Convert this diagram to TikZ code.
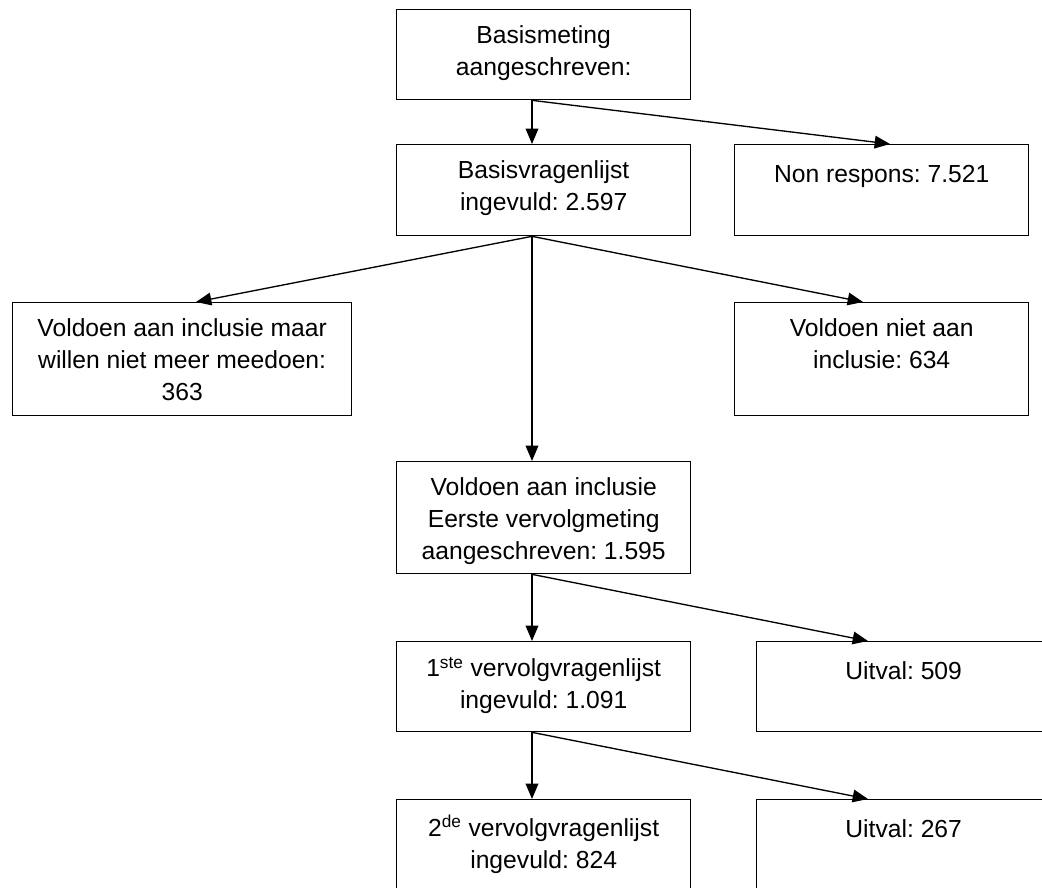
\documentclass[tikz,border=0pt]{standalone}
\usepackage{fontspec}
\setmainfont{Liberation Sans}
\usetikzlibrary{arrows.meta,calc}
\frenchspacing
\begin{document}
\begin{tikzpicture}[x=0.75pt,y=-0.75pt,
  box/.style={draw, line width=1pt, rectangle, inner sep=0pt, anchor=north west,
    minimum width=220.5pt, minimum height=67.5pt},
  txt/.style={inner sep=0pt, anchor=north, align=center,
    font=\fontsize{18.5}{24}\selectfont\frenchspacing, execute at begin node=\strut},
  arr/.style={-{Triangle[length=11.5pt,width=9.5pt]}, line width=1pt}]
\path[use as bounding box] (0,0) rectangle (1042,888);
\clip (0,0) rectangle (1042,888);

% boxes
\node[box] (b1) at (396,9) {};
\node[box, minimum height=68.25pt] (b2) at (396,144) {};
\node[box, minimum height=68.25pt] (nr) at (734,144) {};
\node[box, minimum width=254.25pt, minimum height=84.75pt] (b4) at (12,302) {};
\node[box, minimum height=84.75pt] (b5) at (734,302) {};
\node[box, minimum height=84pt] (b6) at (396,461) {};
\node[box] (b7) at (396,641) {};
\node[box] (u1) at (756,641) {};
\node[box] (b9) at (396,799) {};
\node[box] (u2) at (756,799) {};

% texts
\node[txt] (t1) at ($(b1.north)+(0,16)$) {Basismeting\\aangeschreven:};
\node[txt] (t2) at ($(b2.north)+(0,16)$) {Basisvragenlijst\\ingevuld: 2.597};
\node[txt] (tnr) at ($(nr.north)+(0,16)$) {Non respons: 7.521};
\node[txt] (t4) at ($(b4.north)+(0,16)$) {Voldoen aan inclusie maar\\willen niet meer meedoen:\\363};
\node[txt] (t5) at ($(b5.north)+(0,16)$) {Voldoen niet aan\\inclusie: 634};
\begin{scope}
  \clip (b6.north west) rectangle ($(b6.south east)+(0,-10)$);
  \node[txt] (t6) at ($(b6.north)+(0,16)$) {Voldoen aan inclusie\\Eerste vervolgmeting\\aangeschreven: 1.595};
\end{scope}
\node[txt] (t7) at ($(b7.north)+(0,16)$) {1\textsuperscript{ste} vervolgvragenlijst\\ingevuld: 1.091};
\node[txt] (tu1) at ($(u1.north)+(0,16)$) {Uitval: 509};
\node[txt] (t9) at ($(b9.north)+(0,16)$) {2\textsuperscript{de} vervolgvragenlijst\\ingevuld: 824};
\node[txt] (tu2) at ($(u2.north)+(0,16)$) {Uitval: 267};

% connector ends
\coordinate (b1o) at ($(b1.south west)+(136,0)$);
\coordinate (b2i) at ($(b2.north west)+(136,0)$);
\coordinate (nri) at ($(nr.north west)+(156,0)$);
\coordinate (b2o) at ($(b2.south west)+(136,0)$);
\coordinate (b4i) at ($(b4.north west)+(184,0)$);
\coordinate (b5i) at ($(b5.north west)+(129,0)$);
\coordinate (b6i) at ($(b6.north west)+(136,0)$);
\coordinate (b6o) at ($(b6.south west)+(136,0)$);
\coordinate (b7i) at ($(b7.north west)+(136,0)$);
\coordinate (u1i) at ($(u1.north west)+(112,0)$);
\coordinate (b7o) at ($(b7.south west)+(136,0)$);
\coordinate (b9i) at ($(b9.north west)+(136,0)$);
\coordinate (u2i) at ($(u2.north west)+(112,0)$);

% connectors
\draw[arr] (b1o) -- (b2i);
\draw[arr] (b1o) -- (nri);
\draw[arr] (b2o) -- (b4i);
\draw[arr] (b2o) -- (b5i);
\draw[arr] (b2o) -- (b6i);
\draw[arr] (b6o) -- (b7i);
\draw[arr] (b6o) -- (u1i);
\draw[arr] (b7o) -- (b9i);
\draw[arr] (b7o) -- (u2i);
\end{tikzpicture}
\end{document}
